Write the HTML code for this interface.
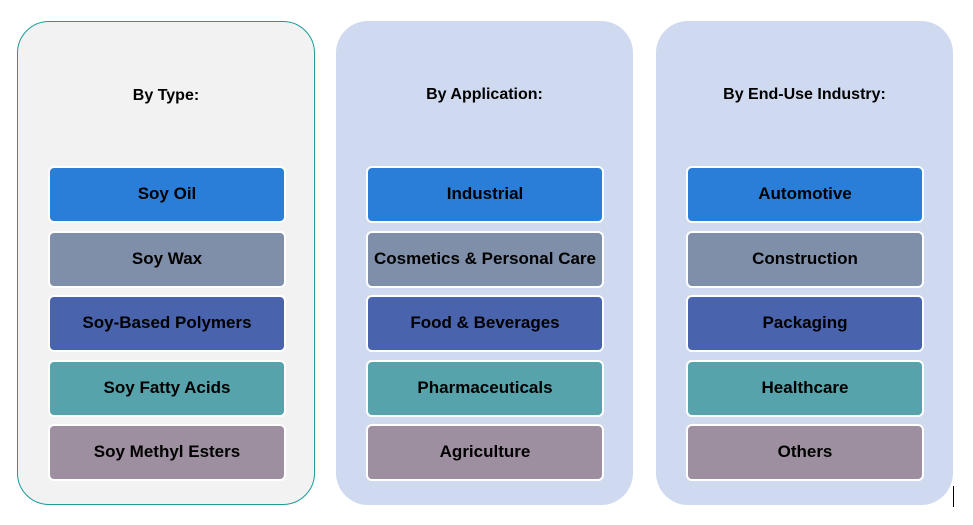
<!DOCTYPE html><html><head><style>
body{margin:0;width:973px;height:525px;background:#fff;position:relative;overflow:hidden;font-family:"Liberation Sans",sans-serif}
.p{position:absolute;top:21px;width:297px;height:484px;border-radius:32px;background:#cfd9ef;box-sizing:border-box}
.h{position:absolute;top:65px;left:0;width:100%;text-align:center;font-weight:bold;font-size:16px;color:#000}
.b{position:absolute;left:30px;width:238px;height:57px;box-sizing:border-box;border:2px solid #fff;border-radius:6px;text-align:center;line-height:51px;font-weight:bold;font-size:17px;color:#000}
.c1{background:#2a7ed8}.c2{background:#7f8ea9}.c3{background:#4a63ad}.c4{background:#57a3ac}.c5{background:#9e8fa0}
</style></head><body>
<div class="p" style="left:17px;background:#f2f2f2;border:1px solid #1e9a9a;width:298px">
<div class="h">By Type:</div>
<div class="b c1" style="top:144px">Soy Oil</div>
<div class="b c2" style="top:209px">Soy Wax</div>
<div class="b c3" style="top:273px">Soy-Based Polymers</div>
<div class="b c4" style="top:338px">Soy Fatty Acids</div>
<div class="b c5" style="top:402px">Soy Methyl Esters</div>
</div>
<div class="p" style="left:336px">
<div class="h">By Application:</div>
<div class="b c1" style="top:145px">Industrial</div>
<div class="b c2" style="top:210px">Cosmetics &amp; Personal Care</div>
<div class="b c3" style="top:274px">Food &amp; Beverages</div>
<div class="b c4" style="top:339px">Pharmaceuticals</div>
<div class="b c5" style="top:403px">Agriculture</div>
</div>
<div class="p" style="left:656px">
<div class="h">By End-Use Industry:</div>
<div class="b c1" style="top:145px">Automotive</div>
<div class="b c2" style="top:210px">Construction</div>
<div class="b c3" style="top:274px">Packaging</div>
<div class="b c4" style="top:339px">Healthcare</div>
<div class="b c5" style="top:403px">Others</div>
</div>
<div style="position:absolute;left:953px;top:486px;width:1px;height:21px;background:#000"></div>
</body></html>
